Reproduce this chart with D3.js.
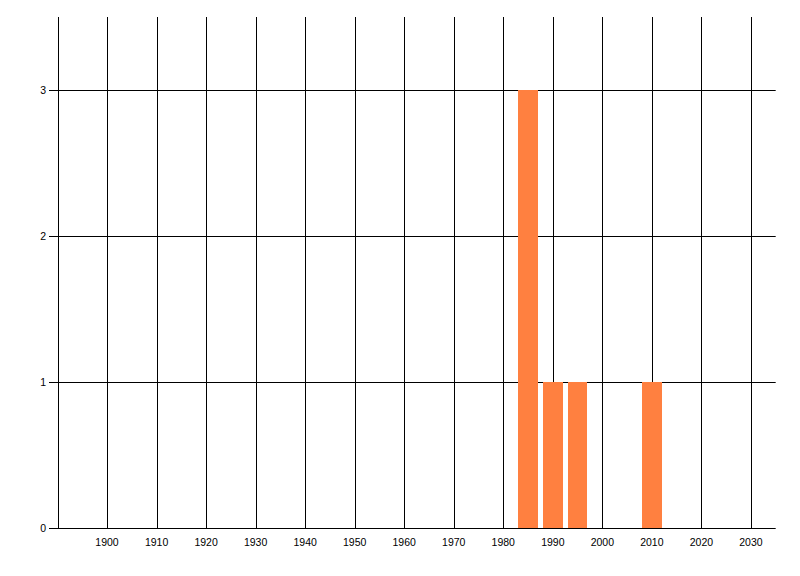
<!DOCTYPE html>
<html><head><meta charset="utf-8">
<script src="https://cdn.jsdelivr.net/npm/d3@7"></script>
<style>body{margin:0;background:#fff}svg{display:block}</style>
</head><body>
<script>
const years = [1985, 1990, 1995, 2010];
const counts = [3, 1, 1, 1];
const xTicks = [1900,1910,1920,1930,1940,1950,1960,1970,1980,1990,2000,2010,2020,2030];
const yTicks = [0,1,2,3];

const W = 800, H = 576;
const svg = d3.select("body").append("svg").attr("width", W).attr("height", H);
const x = d3.scaleLinear().domain([1890, 2035]).range([57.5, 775.7]);
const y = d3.scaleLinear().domain([0, 3.5]).range([528.3, 17]);
const font = "'Liberation Sans', Arial, sans-serif";

// vertical grid
svg.append("g").selectAll("line").data([1890].concat(xTicks)).join("line")
  .attr("x1", d => Math.round(x(d)) + 0.5).attr("x2", d => Math.round(x(d)) + 0.5)
  .attr("y1", y(3.5)).attr("y2", y(0)).attr("stroke", "#000").attr("stroke-width", 1);
// horizontal grid
svg.append("g").selectAll("line").data(yTicks).join("line")
  .attr("x1", 49).attr("x2", x(2035))
  .attr("y1", d => Math.round(y(d)) + 0.5).attr("y2", d => Math.round(y(d)) + 0.5)
  .attr("stroke", "#000").attr("stroke-width", 1);

// bars
svg.append("g").selectAll("rect").data(years.map((yr, i) => ({yr, v: counts[i]}))).join("rect")
  .attr("x", d => Math.round(x(d.yr - 2)))
  .attr("width", d => Math.round(x(d.yr + 2)) - Math.round(x(d.yr - 2)))
  .attr("y", d => Math.round(y(d.v)))
  .attr("height", d => Math.round(y(0)) - Math.round(y(d.v)))
  .attr("fill", "#ff8040");

// labels
svg.append("g").selectAll("text").data(xTicks).join("text")
  .attr("x", d => x(d)).attr("y", 545.5).attr("text-anchor", "middle")
  .attr("font-family", font).attr("font-size", "10.5px").attr("fill", "#000").text(d => d);
svg.append("g").selectAll("text").data(yTicks).join("text")
  .attr("x", 46).attr("y", d => y(d) + 4).attr("text-anchor", "end")
  .attr("font-family", font).attr("font-size", "10.5px").attr("fill", "#000").text(d => d);
</script>
</body></html>
